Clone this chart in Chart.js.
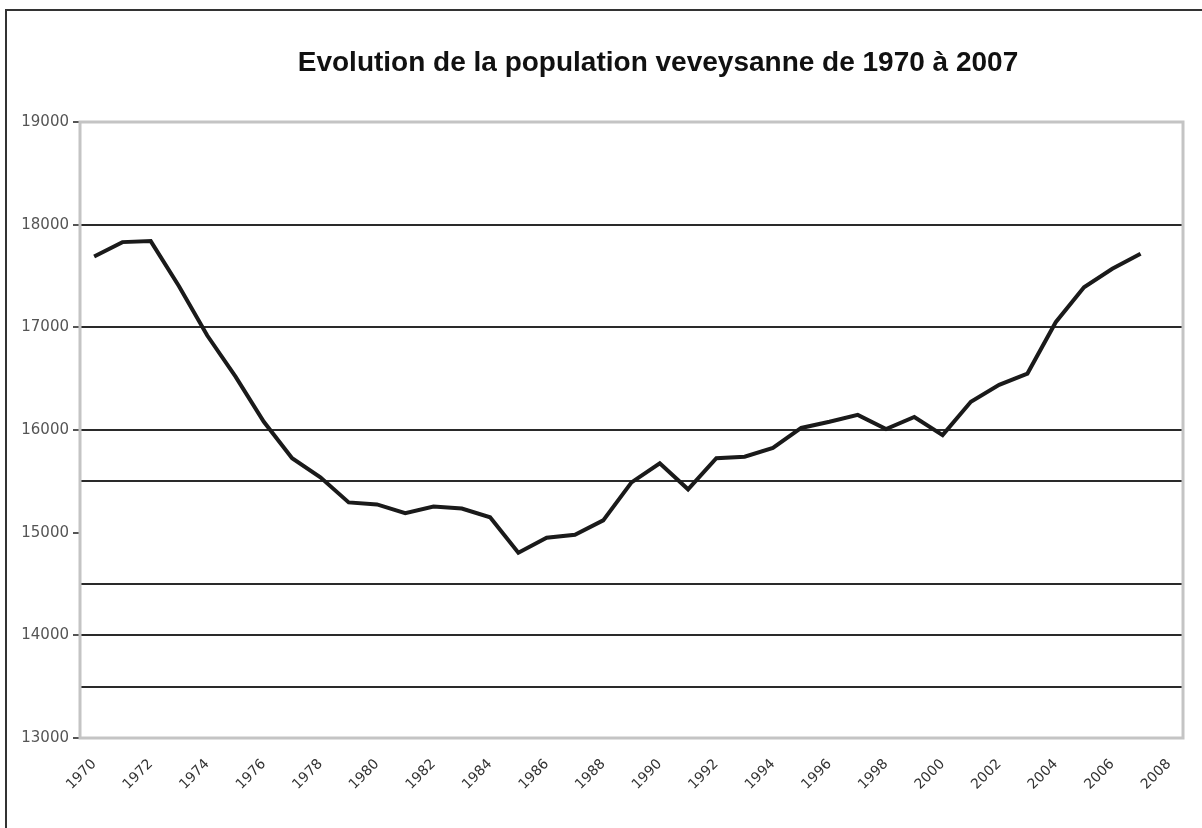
<!DOCTYPE html>
<html>
<head>
<meta charset="utf-8">
<script src="https://cdn.jsdelivr.net/npm/chart.js@4/dist/chart.umd.min.js"></script>
<style>
  html, body { margin: 0; padding: 0; background: #fff; }
  #wrap { position: relative; width: 1202px; height: 828px; }
  #frame { position: absolute; left: 5px; top: 9px; right: 0; bottom: 0;
           border-left: 2px solid #333; border-top: 2px solid #333; pointer-events: none; }
  canvas { position: absolute; left: 0; top: 0; }
</style>
</head>
<body>
<div id="wrap">
  <canvas id="chart" width="1202" height="828"></canvas>
  <div id="frame"></div>
</div>
<script>
// categories (years), the last one has no value
var years = [];
for (var y = 1970; y <= 2008; y++) years.push(String(y));

// population, 1970..2007
var population = [
  17690, 17830, 17840, 17400, 16920, 16520, 16080, 15725, 15540, 15295,
  15275, 15190, 15255, 15235, 15150, 14805, 14950, 14980, 15120, 15490,
  15676, 15422, 15725, 15740, 15825, 16020, 16080, 16147, 16010, 16127,
  15950, 16275, 16440, 16550, 17050, 17390, 17570, 17716, null
];

var yTicks = [13000, 14000, 15000, 16000, 17000, 18000, 19000];
// horizontal lines drawn across the plot (as in the original)
var gridValues = [13500, 14000, 14500, 15500, 16000, 17000, 18000];

var titleText = 'Evolution de la population veveysanne de 1970 à 2007';

// light grey box round the plot area
var plotFrame = {
  id: 'plotFrame',
  beforeDatasetsDraw: function(chart) {
    var a = chart.chartArea, ctx = chart.ctx;
    ctx.save();
    ctx.strokeStyle = '#c4c4c4';
    ctx.lineWidth = 3;
    ctx.strokeRect(a.left, a.top, a.right - a.left, a.bottom - a.top);
    ctx.restore();
  }
};

// title, placed where the original has it
var titlePlugin = {
  id: 'titleText',
  afterDraw: function(chart) {
    var ctx = chart.ctx;
    ctx.save();
    ctx.font = 'bold 28px "Liberation Sans", Arial, sans-serif';
    ctx.fillStyle = '#111';
    ctx.textAlign = 'center';
    ctx.textBaseline = 'alphabetic';
    ctx.fillText(titleText, 658, 71);
    ctx.restore();
  }
};

new Chart(document.getElementById('chart'), {
  type: 'line',
  data: {
    labels: years,
    datasets: [{
      data: population,
      borderColor: '#1a1a1a',
      borderWidth: 4,
      pointRadius: 0,
      tension: 0,
      fill: false
    }]
  },
  options: {
    responsive: false,
    animation: false,
    layout: { padding: { top: 122, right: 19, bottom: 0, left: 0 } },
    plugins: { legend: { display: false }, tooltip: { enabled: false } },
    scales: {
      x: {
        offset: true,
        grid: { display: false, drawTicks: false },
        border: { display: false },
        afterFit: function(scale) { scale.height = 90; },
        ticks: {
          autoSkip: false,
          maxRotation: 45,
          minRotation: 45,
          padding: 18,
          color: '#333',
          font: { family: '"DejaVu Sans", sans-serif', size: 14 },
          callback: function(v, i) { return i % 2 === 0 ? years[i] : ''; }
        }
      },
      y: {
        min: 13000,
        max: 19000,
        afterFit: function(scale) { scale.width = 80; },
        afterBuildTicks: function(scale) {
          var vals = yTicks.concat(gridValues).filter(function(v, i, a) { return a.indexOf(v) === i; });
          vals.sort(function(a, b) { return a - b; });
          scale.ticks = vals.map(function(v) { return { value: v }; });
        },
        border: { display: false },
        grid: {
          lineWidth: 2,
          tickLength: 7,
          color: function(c) {
            return gridValues.indexOf(c.tick.value) >= 0 ? '#2a2a2a' : 'rgba(0,0,0,0)';
          },
          tickColor: function(c) {
            return yTicks.indexOf(c.tick.value) >= 0 ? '#555' : 'rgba(0,0,0,0)';
          }
        },
        ticks: {
          padding: 4,
          color: '#555',
          font: { family: '"DejaVu Sans", sans-serif', size: 15 },
          callback: function(v) { return yTicks.indexOf(v) >= 0 ? String(v) : ''; }
        }
      }
    }
  },
  plugins: [plotFrame, titlePlugin]
});
</script>
</body>
</html>
